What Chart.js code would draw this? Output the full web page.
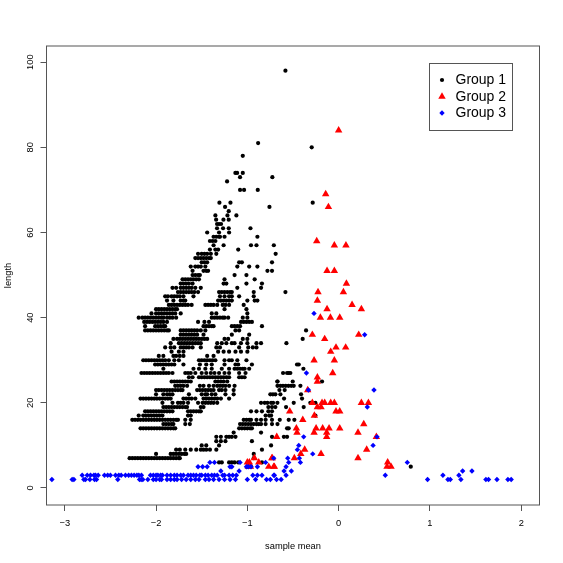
<!DOCTYPE html>
<html lang="en">
  <head>
    <meta charset="UTF-8" />
    <title>sample mean vs length</title>
    <script src="https://cdn.jsdelivr.net/npm/chart.js"></script>
    <style>
      html, body { margin: 0; padding: 0; background: #fff; }
      canvas { display: block; }
    </style>
  </head>
  <body>
    <canvas id="myChart" width="563" height="563"></canvas>
    <script>
      const xTicks = [-3, -2, -1, 0, 1, 2]
      const yTicks = [0, 20, 40, 60, 80, 100]
      const groupNames = ['Group 1', 'Group 2', 'Group 3']

      // one row per length, the sample means
      const group1Lengths = [5, 6, 7, 8, 9, 10, 11, 12, 13, 14, 15, 16, 17, 18, 19, 20, 21, 22, 23, 24, 25, 26, 27, 28, 29, 30, 31, 32, 33, 34, 35, 36, 37, 38, 39, 40, 41, 42, 43, 44, 45, 46, 47, 48, 49, 50, 51, 52, 53, 54, 55, 56, 57, 58, 59, 60, 61, 62, 63, 64, 65, 66, 67, 70, 72, 73, 74, 78, 80, 81, 98]
      const group1Means = [
        [-0.96, 0.79],
        [-1.31, -1.28, -1.2, -1.17, -1.14, -1.1, -0.84],
        [-2.29, -2.26, -2.23, -2.2, -2.17, -2.14, -2.11, -2.08, -2.05, -2.02, -1.99, -1.96, -1.93, -1.9, -1.87, -1.84, -1.81, -1.78, -1.75, -1.74, -0.93],
        [-2.0, -1.84, -1.81, -1.78, -1.75, -1.72, -1.69, -1.67, -0.93],
        [-1.78, -1.74, -1.68, -1.62, -1.56, -1.51, -1.48, -1.45, -1.41, -1.34, -0.84],
        [-1.5, -1.45, -1.31, -0.74],
        [-1.34, -1.29, -1.24, -0.95],
        [-1.34, -1.29, -1.23, -1.2, -1.17, -1.13, -0.73, -0.6, -0.565],
        [-1.15, -0.85],
        [-2.17, -2.14, -2.11, -2.08, -2.05, -2.02, -1.99, -1.96, -1.93, -1.9, -1.87, -1.84, -1.81, -1.79, -1.09, -1.06, -1.03, -1.0, -0.97, -0.95, -0.565, -0.547],
        [-1.92, -1.89, -1.86, -1.83, -1.81, -1.68, -1.63, -1.08, -1.05, -1.02, -0.99, -0.96, -0.93, -0.9, -0.875, -0.85, -0.8, -0.73, -0.67],
        [-2.26, -2.23, -2.2, -2.17, -2.14, -2.11, -2.08, -2.05, -2.02, -1.99, -1.96, -1.93, -1.9, -1.87, -1.84, -1.81, -1.78, -1.76, -1.68, -1.62, -1.04, -1.01, -0.98, -0.96, -0.9, -0.85, -0.8, -0.73, -0.645, -0.547, -0.485],
        [-2.19, -2.14, -2.11, -2.08, -2.05, -2.02, -1.99, -1.96, -1.93, -1.65, -1.62, -0.8, -0.76, -0.74, -0.255],
        [-2.12, -2.09, -2.06, -2.03, -2.0, -1.97, -1.94, -1.91, -1.88, -1.85, -1.82, -1.65, -1.62, -1.59, -1.56, -1.53, -1.51, -0.96, -0.9, -0.84, -0.77, -0.73],
        [-1.92, -1.89, -1.86, -1.83, -1.8, -1.77, -1.74, -1.71, -1.68, -1.66, -1.51, -1.48, -0.77, -0.73, -0.693, -0.576, -0.383],
        [-1.93, -1.82, -1.76, -1.73, -1.7, -1.65, -1.54, -1.49, -1.46, -1.43, -1.4, -1.37, -1.33, -0.85, -0.81, -0.78, -0.74, -0.718, -0.671, -0.492, -0.31, -0.255],
        [-2.17, -2.14, -2.11, -2.08, -2.05, -2.02, -1.99, -1.96, -1.93, -1.9, -1.87, -1.84, -1.7, -1.67, -1.64, -1.61, -1.57, -1.48, -1.45, -1.42, -1.39, -1.36, -1.33, -1.29, -1.2, -0.598, -0.401],
        [-2.0, -1.92, -1.88, -1.85, -1.82, -1.64, -1.5, -1.46, -1.44, -1.39, -1.35, -1.24, -1.15, -0.748, -0.72, -0.693, -0.638, -0.412],
        [-2.0, -1.97, -1.94, -1.91, -1.88, -1.85, -1.82, -1.79, -1.76, -1.73, -1.71, -1.55, -1.52, -1.49, -1.46, -1.43, -1.4, -1.37, -1.31, -1.28, -1.24, -1.15, -0.649, -0.591],
        [-1.79, -1.76, -1.73, -1.7, -1.66, -1.52, -1.48, -1.42, -1.37, -1.33, -1.3, -1.27, -1.24, -1.2, -1.14, -0.67, -0.638, -0.61, -0.58, -0.55, -0.52, -0.492, -0.419],
        [-1.83, -1.8, -1.77, -1.74, -1.71, -1.68, -1.65, -1.62, -1.35, -1.32, -1.29, -1.26, -1.22, -0.67, -0.671, -0.503, -0.182],
        [-1.64, -1.6, -1.53, -1.5, -1.47, -1.44, -1.41, -1.38, -1.35, -1.32, -1.29, -1.26, -1.23, -1.2, -1.09, -1.06, -1.03],
        [-2.16, -2.13, -2.1, -2.07, -2.04, -2.01, -1.98, -1.95, -1.92, -1.89, -1.86, -1.82, -1.68, -1.65, -1.62, -1.57, -1.5, -1.45, -1.4, -1.36, -1.31, -1.25, -1.2, -1.09, -1.02, -0.609, -0.565, -0.547, -0.529],
        [-1.92, -1.59, -1.53, -1.46, -1.39, -1.28, -1.2, -1.14, -1.11, -1.08, -1.05, -1.03, -0.98, -0.386],
        [-2.01, -1.98, -1.95, -1.92, -1.89, -1.86, -1.83, -1.8, -1.7, -1.52, -1.45, -1.39, -1.25, -1.13, -1.1, -0.95, -0.456, -0.437],
        [-2.14, -2.11, -2.08, -2.05, -2.02, -1.99, -1.96, -1.93, -1.9, -1.86, -1.8, -1.75, -1.53, -1.5, -1.47, -1.44, -1.41, -1.38, -1.35, -1.25, -1.2, -1.17, -1.11, -1.01],
        [-1.97, -1.92, -1.81, -1.78, -1.74, -1.7, -1.44, -1.37],
        [-1.83, -1.75, -1.7, -1.32, -1.26, -1.2, -1.13, -1.07, -1.0],
        [-1.9, -1.84, -1.8, -1.73, -1.7, -1.67, -1.64, -1.6, -1.51, -1.34, -1.3, -1.09, -0.99, -0.94, -0.9],
        [-1.84, -1.75, -1.72, -1.69, -1.66, -1.63, -1.6, -1.57, -1.54, -1.51, -1.33, -1.28, -1.23, -1.17, -1.14, -1.07, -1.0, -0.9, -0.85, -0.572],
        [-1.81, -1.77, -1.74, -1.71, -1.68, -1.65, -1.62, -1.59, -1.56, -1.53, -1.5, -1.47, -1.44, -1.25, -1.21, -1.05, -1.0, -0.394],
        [-1.73, -1.7, -1.67, -1.64, -1.61, -1.58, -1.55, -1.48, -1.17, -0.98],
        [-2.12, -2.09, -2.06, -2.03, -2.0, -1.97, -1.94, -1.91, -1.88, -1.86, -1.73, -1.7, -1.67, -1.64, -1.61, -1.58, -1.55, -1.51, -1.46, -1.13, -1.09, -0.357],
        [-2.12, -2.01, -1.98, -1.95, -1.92, -1.9, -1.48, -1.45, -1.42, -1.39, -1.37, -1.17, -1.14, -1.11, -1.08, -0.84],
        [-2.13, -2.1, -2.07, -2.04, -2.01, -1.98, -1.95, -1.92, -1.88, -1.54, -1.47, -1.42, -1.07, -1.04, -1.01, -0.98, -0.95],
        [-2.19, -2.15, -2.12, -2.09, -2.06, -2.03, -2.0, -1.97, -1.94, -1.92, -1.88, -1.85, -1.82, -1.78, -1.39, -1.36, -1.33, -1.3, -1.27, -1.25, -1.21, -1.05, -1.0],
        [-2.05, -2.0, -1.97, -1.94, -1.91, -1.88, -1.85, -1.82, -1.79, -1.73, -1.39, -1.34, -1.0],
        [-2.0, -1.97, -1.94, -1.91, -1.88, -1.85, -1.82, -1.79, -1.77, -1.25, -1.01],
        [-1.86, -1.83, -1.8, -1.77, -1.74, -1.71, -1.68, -1.65, -1.61, -1.46, -1.43, -1.4, -1.37, -1.33, -1.27, -1.24, -1.2, -1.04],
        [-1.88, -1.81, -1.73, -1.7, -1.68, -1.32, -1.29, -1.26, -1.23, -1.2, -1.17, -1.0, -0.92, -0.89],
        [-1.9, -1.87, -1.83, -1.8, -1.77, -1.74, -1.7, -1.59, -1.3, -1.25, -1.2, -1.17, -1.09, -0.93],
        [-1.76, -1.73, -1.7, -1.67, -1.64, -1.61, -1.58, -1.54, -1.31, -1.28, -1.25, -1.22, -1.19, -1.17, -0.93, -0.583],
        [-1.82, -1.78, -1.73, -1.7, -1.67, -1.64, -1.61, -1.57, -1.51, -1.11, -0.85],
        [-1.73, -1.7, -1.67, -1.64, -1.6, -1.26, -1.23, -1.01, -0.84],
        [-1.71, -1.68, -1.65, -1.62, -1.59, -1.56, -1.53, -1.25, -0.92],
        [-1.6, -1.57, -1.54, -1.52, -1.14, -1.01],
        [-1.6, -1.48, -1.45, -1.43, -0.78, -0.73],
        [-1.62, -1.57, -1.54, -1.51, -1.46, -1.11, -0.98, -0.89],
        [-1.5, -1.47, -1.44, -1.09, -1.06, -0.73],
        [-1.57, -1.54, -1.51, -1.48, -1.45, -1.42, -1.4],
        [-1.54, -1.5, -1.47, -1.44, -1.4, -1.34, -0.69],
        [-1.41, -1.35, -1.32, -1.1],
        [-1.37, -1.26, -0.96, -0.9, -0.71],
        [-1.41, -1.38, -1.35],
        [-1.37, -1.34, -1.31, -1.3, -1.25, -0.89],
        [-1.44, -1.31, -1.2],
        [-1.332, -1.266, -1.204, -0.966],
        [-1.332, -1.31, -1.288],
        [-1.342, -1.262, -1.204],
        [-1.35, -1.218, -1.12],
        [-1.204],
        [-1.244, -0.758],
        [-1.306, -1.185, -0.284],
        [-1.08, -1.036, -0.886],
        [-1.222],
        [-1.08, -0.726],
        [-1.131, -1.112, -1.05],
        [-1.05],
        [-0.295],
        [-0.882],
        [-0.583]
      ]

      const group2Lengths = [5, 6, 7, 8, 9, 12, 13, 14, 15, 16, 17, 18, 19, 20, 23, 25, 26, 27, 30, 32, 33, 35, 36, 40, 42, 43, 44, 46, 48, 51, 57, 58, 66, 69, 84]
      const group2Means = [
        [-0.99, -0.966, -0.766, -0.711, -0.704, 0.53, 0.574],
        [-1.0, -0.978, -0.875, 0.537],
        [-0.923, -0.729, -0.73, -0.485, 0.212],
        [-0.415, -0.193],
        [-0.372, 0.307],
        [-0.678, -0.131, 0.413],
        [-0.456, -0.269, -0.131, 0.212],
        [-0.463, -0.247, -0.175, -0.105, 0.012],
        [0.275],
        [-0.393],
        [-0.266],
        [-0.536, -0.029, 0.012],
        [-0.233, -0.193],
        [-0.288, -0.182, -0.153, -0.087, -0.047, 0.249, 0.326],
        [-0.339],
        [-0.233],
        [-0.233],
        [-0.065],
        [-0.269, -0.047],
        [-0.087],
        [-0.029, 0.077],
        [-0.153],
        [-0.288, 0.22],
        [-0.2, -0.09, 0.012],
        [-0.127, 0.249],
        [0.147],
        [-0.233],
        [-0.226, 0.052],
        [0.085],
        [-0.127, -0.047],
        [-0.047, 0.08],
        [-0.24],
        [-0.112],
        [-0.142],
        [0.0]
      ]

      const group3Lengths = [2, 3, 4, 5, 6, 7, 8, 9, 10, 12, 19, 23, 27, 36, 41]
      const group3Means = [
        [-3.141, -2.919, -2.9, -2.791, -2.773, -2.725, -2.674, -2.652, -2.419, -2.181, -2.163, -2.145, -2.09, -2.03, -2.0, -1.96, -1.94, -1.88, -1.84, -1.8, -1.77, -1.72, -1.67, -1.62, -1.57, -1.53, -1.46, -1.42, -1.37, -1.31, -1.25, -1.19, -1.13, -1.0, -0.91, -0.79, -0.748, 0.974, 1.197, 1.223, 1.339, 1.613, 1.642, 1.734, 1.854, 1.89, -0.68, -0.63],
        [-2.809, -2.754, -2.718, -2.681, -2.663, -2.634, -2.565, -2.53, -2.5, -2.444, -2.408, -2.382, -2.335, -2.3, -2.27, -2.24, -2.21, -2.189, -2.16, -2.061, -2.03, -2.0, -1.98, -1.95, -1.93, -1.88, -1.84, -1.8, -1.77, -1.73, -1.7, -1.65, -1.62, -1.59, -1.56, -1.52, -1.5, -1.46, -1.43, -1.39, -1.36, -1.33, -1.27, -1.25, -1.2, -1.16, -1.12, -0.94, -0.89, -0.84, -0.71, -0.704, -0.576, 0.511, 1.142, 1.317],
        [-1.29, -1.09, -0.598, -0.518, 1.358, 1.46],
        [-1.54, -1.49, -1.44, -1.19, -1.17, -1.01, -0.99, -0.96, -0.89, -0.576],
        [-1.41, -1.36, -1.08, -0.8, -0.547, -0.419, 0.752],
        [-0.711, -0.558, -0.43],
        [-0.284],
        [-0.452],
        [-0.437, 0.377],
        [-0.383, 0.42],
        [0.314],
        [-0.331, 0.387],
        [-0.353],
        [0.285],
        [-0.27]
      ]

      function montarPontos(lengths, means) {
        let pontos = []
        for (let i = 0; i < lengths.length; i++) {
          for (let j = 0; j < means[i].length; j++) {
            pontos.push({ x: means[i][j], y: lengths[i] })
          }
        }
        return pontos
      }

      // box around the plot and the legend, R style
      const boxPlugin = {
        id: 'boxPlugin',
        afterDraw(chart) {
          const ctx = chart.ctx
          const area = chart.chartArea
          ctx.save()
          ctx.strokeStyle = '#555'
          ctx.lineWidth = 1
          ctx.strokeRect(area.left, area.top, area.right - area.left, area.bottom - area.top)

          ctx.fillStyle = '#fff'
          ctx.fillRect(429.5, 63.5, 83, 67)
          ctx.strokeRect(429.5, 63.5, 83, 67)

          const estilos = chart.data.datasets
          const linhas = [80, 96.5, 113]
          ctx.font = '14px "Liberation Sans"'
          ctx.textBaseline = 'middle'
          for (let i = 0; i < estilos.length; i++) {
            ctx.fillStyle = estilos[i].pointBackgroundColor
            Chart.helpers.drawPoint(ctx, { pointStyle: estilos[i].pointStyle, radius: estilos[i].pointRadius, borderWidth: 0 }, 442, linhas[i])
            ctx.fillStyle = '#000'
            ctx.fillText(groupNames[i], 455.5, linhas[i] + 0.5)
          }
          ctx.restore()
        }
      }

      const tickFont = { family: 'Liberation Sans', size: 9.3 }

      new Chart(document.getElementById('myChart'), {
        type: 'scatter',
        data: {
          datasets: [
            { label: groupNames[0], data: montarPontos(group1Lengths, group1Means), pointStyle: 'circle', pointRadius: 2.1, pointBackgroundColor: '#000', pointBorderWidth: 0, order: 3 },
            { label: groupNames[1], data: montarPontos(group2Lengths, group2Means), pointStyle: 'triangle', pointRadius: 4.3, pointBackgroundColor: '#f00', pointBorderWidth: 0, order: 2 },
            { label: groupNames[2], data: montarPontos(group3Lengths, group3Means), pointStyle: 'rectRot', pointRadius: 2.7, pointBackgroundColor: '#00f', pointBorderWidth: 0, order: 1 }
          ]
        },
        options: {
          responsive: false,
          animation: false,
          layout: { padding: { top: 46, right: 23.5, left: 0, bottom: 0 } },
          plugins: { legend: { display: false }, tooltip: { enabled: false } },
          scales: {
            x: {
              type: 'linear',
              min: -3.2,
              max: 2.2,
              afterBuildTicks: (s) => { s.ticks = xTicks.map((v) => ({ value: v })) },
              afterFit: (s) => { s.height = 58 },
              grid: { drawOnChartArea: false, drawTicks: true, tickLength: 6, color: '#555' },
              border: { display: false },
              ticks: { font: tickFont, color: '#000', padding: 7, maxRotation: 0, callback: (v) => String(v).replace('-', '\u2212') },
              title: { display: true, text: 'sample mean', font: tickFont, color: '#000', padding: { top: 0, bottom: 11 } }
            },
            y: {
              type: 'linear',
              min: -4,
              max: 103.8,
              afterBuildTicks: (s) => { s.ticks = yTicks.map((v) => ({ value: v })) },
              afterFit: (s) => { s.width = 46.5 },
              grid: { drawOnChartArea: false, drawTicks: true, tickLength: 6, color: '#555' },
              border: { display: false },
              ticks: { font: tickFont, color: '#000', padding: 2, minRotation: 90, maxRotation: 90, crossAlign: 'center' },
              title: { display: true, text: 'length', font: tickFont, color: '#000', padding: { top: 3, bottom: 0 } }
            }
          }
        },
        plugins: [boxPlugin]
      })
    </script>
  </body>
</html>
